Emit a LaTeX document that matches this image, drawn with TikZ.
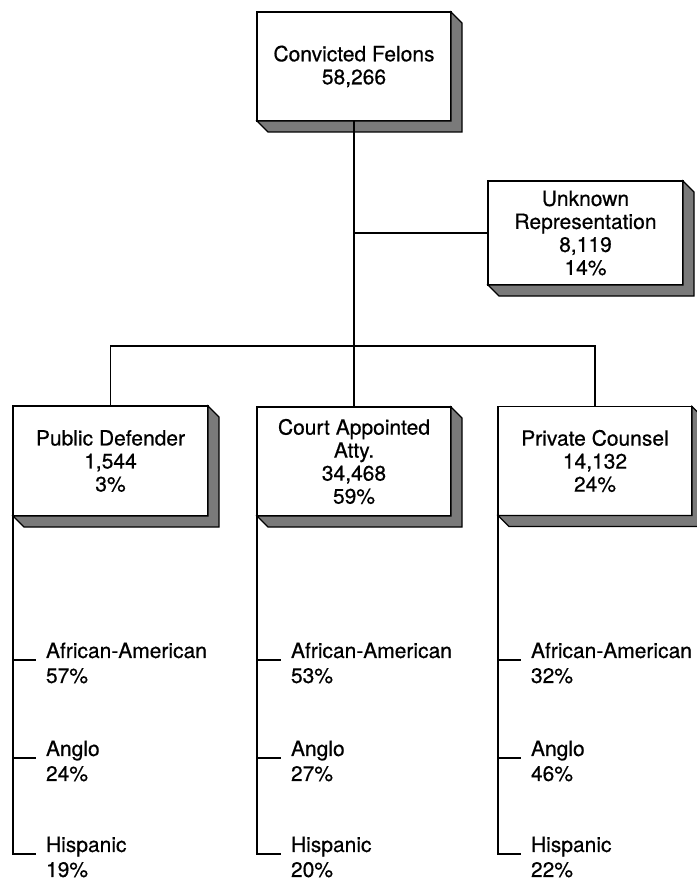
\documentclass[tikz,border=0pt]{standalone}
\usepackage{fontspec}
\setmainfont[FakeBold=0.5]{TeX Gyre Heros}
\usetikzlibrary{calc}
\tikzset{
  box/.style={draw, fill=white, line width=1.6pt, outer sep=0pt, inner sep=0pt,
    align=center, font=\fontsize{21}{23}\selectfont},
  grp/.style={anchor=west, inner sep=0pt, outer sep=0pt, align=left,
    font=\fontsize{21}{25}\selectfont},
  conn/.style={line width=1.4pt},
  shade3d/.style={fill=black!52, draw=black, line width=1.2pt, line join=miter}
}
\newcommand\dropshade[1]{%
  \filldraw[shade3d] (#1.north east) -- ++(11,11) -- ($(#1.south east)+(11,11)$)
    -- ($(#1.south west)+(11,11)$) -- (#1.south west) -- (#1.south east) -- cycle;}
\begin{document}
\begin{tikzpicture}[x=1pt,y=-1pt]
\useasboundingbox (0,0) rectangle (696,882);
% boxes
\node[box, minimum width=194pt, minimum height=109pt] (top) at (354,66.5) {Convicted Felons\\58,266};
\node[box, minimum width=195pt, minimum height=104pt] (unk) at (585.5,233) {Unknown\\Representation\\8,119\\14\%};
\node[box, minimum width=195pt, minimum height=110pt] (pub) at (110.5,461) {Public Defender\\1,544\\3\%};
\node[box, minimum width=194pt, minimum height=109pt] (court) at (354,461.5) {Court Appointed\\Atty.\\34,468\\59\%};
\node[box, minimum width=194pt, minimum height=109pt] (priv) at (595,461) {Private Counsel\\14,132\\24\%};
\dropshade{top}
\dropshade{unk}
\dropshade{pub}
\dropshade{court}
\dropshade{priv}
% connectors
\coordinate (bus) at (354,346);
\draw[conn] (top.south) -- (court.north);
\draw[conn] (top.south |- unk.west) -- (unk.west);
\draw[conn] (pub.north) |- (bus) -| (priv.north);
% group labels
\node[grp] (pa) at (46,663) {African-American\\57\%};
\node[grp] (pb) at (46,761) {Anglo\\24\%};
\node[grp] (pc) at (46,857) {Hispanic\\19\%};
\node[grp] (ca) at (291,663) {African-American\\53\%};
\node[grp] (cb) at (291,761) {Anglo\\27\%};
\node[grp] (cc) at (291,857) {Hispanic\\20\%};
\node[grp] (ra) at (531,663) {African-American\\32\%};
\node[grp] (rb) at (531,761) {Anglo\\46\%};
\node[grp] (rc) at (531,857) {Hispanic\\22\%};
\foreach \b/\l in {pub/pa,pub/pb,pub/pc,court/ca,court/cb,court/cc,priv/ra,priv/rb,priv/rc}{
  \draw[conn] (\b.south west) |- ([shift={(-10pt,3pt)}]\l.west);
}
\end{tikzpicture}
\end{document}
